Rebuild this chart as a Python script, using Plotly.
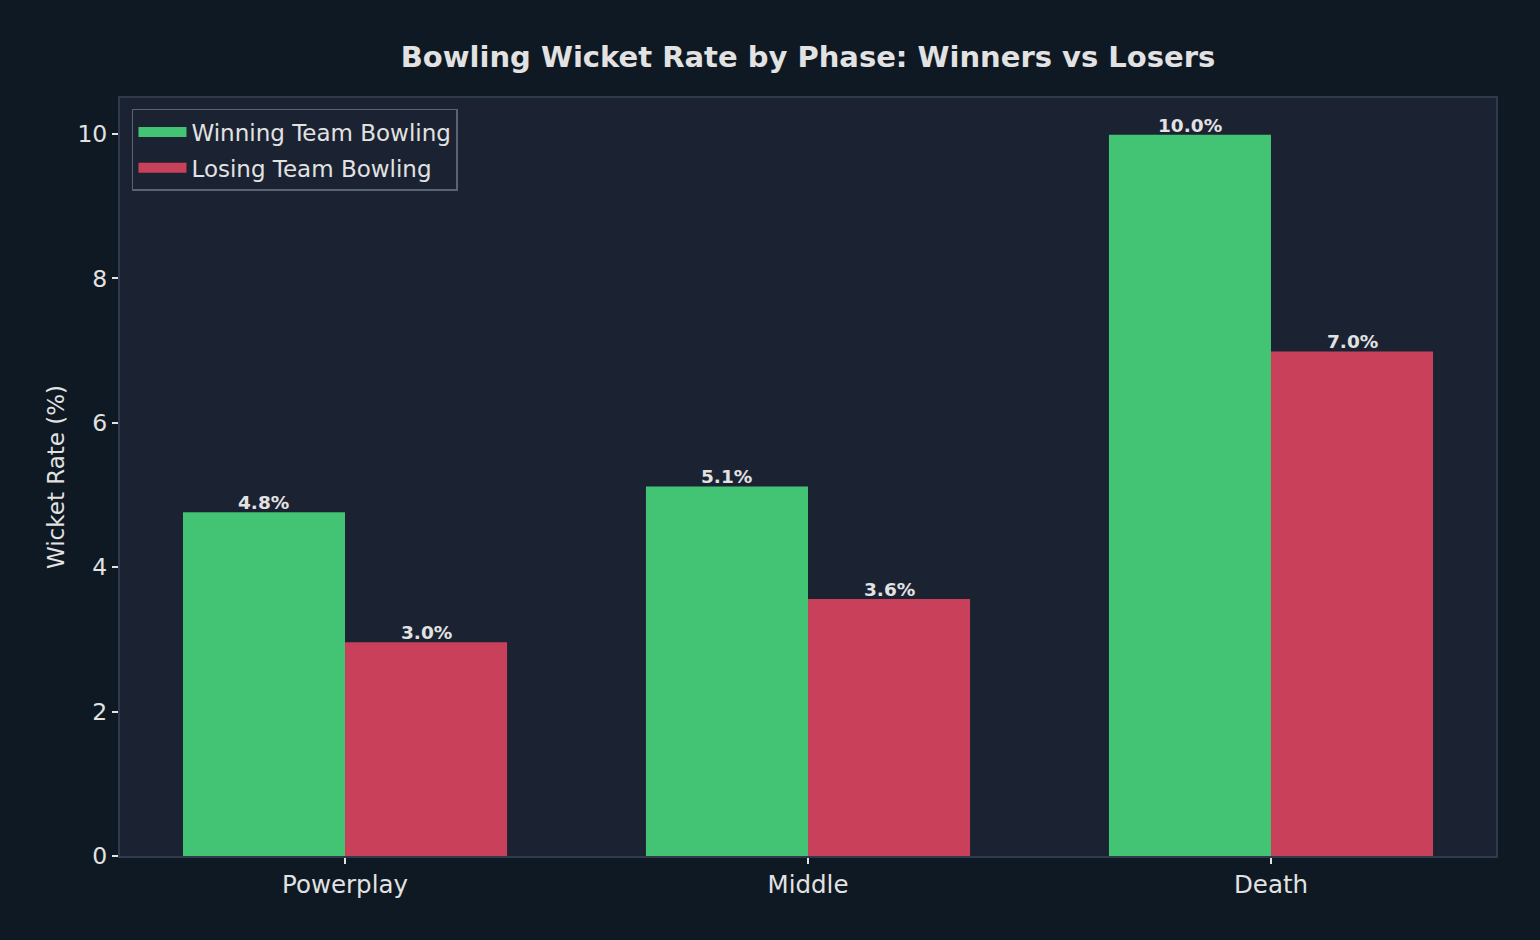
import plotly.graph_objects as go

phases = ["Powerplay", "Middle", "Death"]
winning_rate = [4.76, 5.12, 9.99]
losing_rate = [2.96, 3.56, 6.99]
series_names = ["Winning Team Bowling", "Losing Team Bowling"]
y_ticks = [0, 2, 4, 6, 8, 10]

BG = "#0f1923"
PLOT_BG = "#1b2333"
GREEN = "#43c374"
RED = "#c9405a"
TEXT = "#e2e2e2"
SPINE = "#2e3b4c"
FONT = "DejaVu Sans"
BAR_W = 0.35

idx = list(range(len(phases)))

fig = go.Figure()
annotations = []
for k, (name, vals, col, grp) in enumerate([
    (series_names[0], winning_rate, GREEN, "w"),
    (series_names[1], losing_rate, RED, "l"),
]):
    off = (k - 0.5) * BAR_W
    xs = [i + off for i in idx]
    fig.add_trace(go.Bar(
        x=xs, y=vals, name=name, legendgroup=grp, width=BAR_W,
        marker=dict(color=col, line=dict(width=0)), showlegend=False,
    ))
    # legend swatch (wide rectangle like the reference)
    fig.add_trace(go.Scatter(
        x=[None], y=[None], mode="lines", name=name, legendgroup=grp,
        line=dict(color=col, width=15), showlegend=True,
    ))
    for x, v in zip(xs, vals):
        annotations.append(dict(
            x=x, y=v, xref="x", yref="y", text=f"<b>{v:.1f}%</b>",
            showarrow=False, yanchor="bottom", yshift=-3,
            font=dict(family=FONT, size=18.5, color=TEXT),
        ))

fig.update_layout(
    width=1540, height=940,
    paper_bgcolor=BG, plot_bgcolor=PLOT_BG,
    margin=dict(l=120, r=44, t=98, b=84),
    barmode="overlay",
    font=dict(family=FONT, color=TEXT),
    annotations=annotations,
    title=dict(
        text="<b>Bowling Wicket Rate by Phase: Winners vs Losers</b>",
        font=dict(family=FONT, size=29, color=TEXT),
        x=0.5, xanchor="center", xref="paper",
        y=1 - 57 / 940, yref="container", yanchor="middle",
    ),
    legend=dict(
        x=0.0087, y=0.9855, xanchor="left", yanchor="top",
        bgcolor=PLOT_BG, bordercolor="#5a6370", borderwidth=1.5,
        font=dict(family=FONT, size=23, color=TEXT),
        tracegroupgap=3, itemwidth=48,
    ),
)

fig.update_xaxes(
    range=[-0.486, 2.486],
    tickvals=idx, ticktext=phases,
    showgrid=False, zeroline=False,
    showline=True, linecolor=SPINE, linewidth=2, mirror=True,
    ticks="outside", ticklen=6, tickwidth=1.5, tickcolor=TEXT,
    tickfont=dict(family=FONT, size=24.5, color=TEXT),
)
fig.update_yaxes(
    range=[0, 10.5],
    tickvals=y_ticks,
    showgrid=False, zeroline=False,
    showline=True, linecolor=SPINE, linewidth=2, mirror=True,
    ticks="outside", ticklen=6, tickwidth=1.5, tickcolor=TEXT,
    tickfont=dict(family=FONT, size=23.5, color=TEXT),
    title=dict(text="Wicket Rate (%)", font=dict(family=FONT, size=23, color=TEXT), standoff=6),
)

fig.write_html("out.html")
